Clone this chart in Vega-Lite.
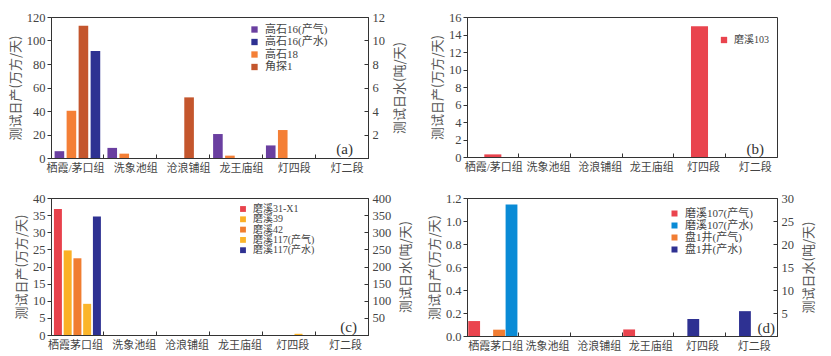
{
  "$schema": "https://vega.github.io/schema/vega-lite/v6.json",
  "padding": {"left": 8, "top": 10, "right": 0, "bottom": 0},
  "background": "white",
  "datasets": {
    "a": [
      {"cat": "栖霞/茅口组", "series": "高石16(产气)", "kind": "gas", "v": 5.8},
      {"cat": "栖霞/茅口组", "series": "高石18", "kind": "gas", "v": 40.2},
      {"cat": "栖霞/茅口组", "series": "角探1", "kind": "gas", "v": 112.6},
      {"cat": "栖霞/茅口组", "series": "高石16(产水)", "kind": "water", "v": 9.1},
      {"cat": "洗象池组", "series": "高石16(产气)", "kind": "gas", "v": 8.6},
      {"cat": "洗象池组", "series": "高石18", "kind": "gas", "v": 3.7},
      {"cat": "沧浪铺组", "series": "角探1", "kind": "gas", "v": 51.6},
      {"cat": "龙王庙组", "series": "高石16(产气)", "kind": "gas", "v": 20.4},
      {"cat": "龙王庙组", "series": "高石18", "kind": "gas", "v": 2},
      {"cat": "灯四段", "series": "高石16(产气)", "kind": "gas", "v": 10.7},
      {"cat": "灯四段", "series": "高石18", "kind": "gas", "v": 23.8}
    ],
    "b": [
      {"cat": "栖霞/茅口组", "series": "磨溪103", "v": 0.3},
      {"cat": "灯四段", "series": "磨溪103", "v": 14.95}
    ],
    "c": [
      {"cat": "栖霞茅口组", "series": "磨溪31-X1", "kind": "gas", "v": 36.8},
      {"cat": "栖霞茅口组", "series": "磨溪39", "kind": "gas", "v": 24.7},
      {"cat": "栖霞茅口组", "series": "磨溪42", "kind": "gas", "v": 22.4},
      {"cat": "栖霞茅口组", "series": "磨溪117(产气)", "kind": "gas", "v": 9.1},
      {"cat": "栖霞茅口组", "series": "磨溪117(产水)", "kind": "water", "v": 346},
      {"cat": "灯四段", "series": "磨溪117(产气)", "kind": "gas", "v": 0.35}
    ],
    "d": [
      {"cat": "栖霞茅口组", "series": "磨溪107(产气)", "kind": "gas", "v": 0.13},
      {"cat": "栖霞茅口组", "series": "盘1井(产气)", "kind": "gas", "v": 0.055},
      {"cat": "栖霞茅口组", "series": "磨溪107(产水)", "kind": "water", "v": 28.6},
      {"cat": "龙王庙组", "series": "磨溪107(产气)", "kind": "gas", "v": 0.057},
      {"cat": "灯四段", "series": "盘1井(产水)", "kind": "water", "v": 3.7},
      {"cat": "灯二段", "series": "盘1井(产水)", "kind": "water", "v": 5.4}
    ]
  },
  "concat": [
    {
      "width": 317, "height": 141,
      "data": {"name": "a"},
      "encoding": {
        "x": {"field": "cat", "type": "nominal", "title": null,
          "scale": {"domain": ["栖霞/茅口组", "洗象池组", "沧浪铺组", "龙王庙组", "灯四段", "灯二段"], "paddingInner": 0, "paddingOuter": 0},
          "axis": {"bandPosition": 0, "labelOffset": {"condition": {"test": "datum.value === '栖霞/茅口组'", "value": -2}, "value": 5.5}, "tickSize": -4, "labelPadding": 8, "labelAngle": 0, "labelFont": "Liberation Serif, Noto Sans CJK SC", "labelFontSize": 11}}
      },
      "layer": [
        {
          "layer": [
            {
              "transform": [{"filter": "datum.kind == 'gas'"}],
              "mark": {"type": "bar"},
              "encoding": {
                "xOffset": {"field": "series", "type": "nominal", "scale": {"domain": ["高石16(产气)", "高石18", "角探1", "高石16(产水)"], "paddingInner": 0.2, "paddingOuter": 0.3}},
                "y": {"field": "v", "type": "quantitative", "scale": {"domain": [0, 120], "nice": false},
                  "axis": {"orient": "left", "values": [0, 20, 40, 60, 80, 100, 120], "labelOverlap": false, "title": "测试日产(万方/天)", "tickSize": 4, "labelPadding": 2}},
                "color": {"field": "series", "type": "nominal",
                  "scale": {"domain": ["高石16(产气)", "高石16(产水)", "高石18", "角探1"], "range": ["#6A3FA0", "#2E3192", "#F47F36", "#C4562D"]},
                  "legend": {"orient": "none", "legendX": 198, "legendY": 7, "labelFontSize": 11, "rowPadding": 0.5, "symbolSize": 40}}
              }
            },
            {
              "data": {"values": [{}]},
              "mark": {"type": "text", "text": "(a)", "font": "Liberation Serif", "fontSize": 15, "color": "#333", "dx": 3, "baseline": "middle"},
              "encoding": {"x": {"datum": "灯二段", "type": "nominal"},
                "y": {"datum": 7.7, "type": "quantitative", "scale": {"domain": [0, 120], "nice": false},
                  "axis": {"orient": "left", "values": [0, 20, 40, 60, 80, 100, 120], "labelOverlap": false, "title": "测试日产(万方/天)", "tickSize": 4, "labelPadding": 2}}}
            }
          ]
        },
        {
          "transform": [{"filter": "datum.kind == 'water'"}],
          "mark": {"type": "bar"},
          "encoding": {
            "xOffset": {"field": "series", "type": "nominal", "scale": {"domain": ["高石16(产气)", "高石18", "角探1", "高石16(产水)"], "paddingInner": 0.2, "paddingOuter": 0.3}},
            "y": {"field": "v", "type": "quantitative", "scale": {"domain": [0, 12], "nice": false},
              "axis": {"orient": "right", "values": [0, 2, 4, 6, 8, 10, 12], "labelExpr": "datum.value === 0 ? '' : datum.label", "title": "测试日水(吨/天)", "titleAngle": 270, "tickSize": -4, "labelPadding": 8, "titlePadding": 22}},
            "color": {"field": "series", "type": "nominal",
              "scale": {"domain": ["高石16(产气)", "高石16(产水)", "高石18", "角探1"], "range": ["#6A3FA0", "#2E3192", "#F47F36", "#C4562D"]},
              "legend": {"orient": "none", "legendX": 198, "legendY": 7, "labelFontSize": 11, "rowPadding": 0.5, "symbolSize": 40}}
          }
        }
      ],
      "resolve": {"scale": {"y": "independent"}}
    },
    {
      "width": 310, "height": 140,
      "data": {"name": "b"},
      "encoding": {
        "x": {"field": "cat", "type": "nominal", "title": null,
          "scale": {"domain": ["栖霞/茅口组", "洗象池组", "沧浪铺组", "龙王庙组", "灯四段", "灯二段"], "paddingInner": 0, "paddingOuter": 0},
          "axis": {"bandPosition": 0, "labelOffset": {"condition": {"test": "datum.value === '栖霞/茅口组'", "value": 1}, "value": 4}, "tickSize": -4, "labelPadding": 8, "labelAngle": 0, "labelFont": "Liberation Serif, Noto Sans CJK SC", "labelFontSize": 11}}
      },
      "layer": [
        {
          "mark": {"type": "bar", "width": {"band": 0.33}},
          "encoding": {
            "y": {"field": "v", "type": "quantitative", "scale": {"domain": [0, 16], "nice": false},
              "axis": {"orient": "left", "values": [0, 2, 4, 6, 8, 10, 12, 14, 16], "labelOverlap": false, "title": "测试日产(万方/天)", "tickSize": 4, "labelPadding": 2}},
            "color": {"field": "series", "type": "nominal",
              "scale": {"domain": ["磨溪103"], "range": ["#E9444E"]},
              "legend": {"orient": "none", "legendX": 252, "legendY": 18, "labelFontSize": 10, "rowPadding": 1, "symbolSize": 40}}
          }
        },
        {
          "data": {"values": [{}]},
          "mark": {"type": "text", "text": "(b)", "font": "Liberation Serif", "fontSize": 15, "color": "#333", "dx": 4, "baseline": "middle"},
          "encoding": {"x": {"datum": "灯二段", "type": "nominal"},
            "y": {"datum": 0.91, "type": "quantitative", "scale": {"domain": [0, 16], "nice": false},
              "axis": {"orient": "left", "values": [0, 2, 4, 6, 8, 10, 12, 14, 16], "labelOverlap": false, "title": "测试日产(万方/天)", "tickSize": 4, "labelPadding": 2}}}
        }
      ]
    },
    {
      "width": 317, "height": 137,
      "data": {"name": "c"},
      "encoding": {
        "x": {"field": "cat", "type": "nominal", "title": null,
          "scale": {"domain": ["栖霞茅口组", "洗象池组", "沧浪铺组", "龙王庙组", "灯四段", "灯二段"], "paddingInner": 0, "paddingOuter": 0},
          "axis": {"bandPosition": 0, "labelOffset": {"condition": {"test": "datum.value === '栖霞茅口组'", "value": -2}, "value": 4}, "tickSize": -4, "labelPadding": 8, "labelAngle": 0, "labelFont": "Liberation Serif, Noto Sans CJK SC", "labelFontSize": 11}}
      },
      "layer": [
        {
          "layer": [
            {
              "transform": [{"filter": "datum.kind == 'gas'"}],
              "mark": {"type": "bar"},
              "encoding": {
                "xOffset": {"field": "series", "type": "nominal", "scale": {"domain": ["磨溪31-X1", "磨溪39", "磨溪42", "磨溪117(产气)", "磨溪117(产水)"], "paddingInner": 0.18, "paddingOuter": 0.3}},
                "y": {"field": "v", "type": "quantitative", "scale": {"domain": [0, 40], "nice": false},
                  "axis": {"orient": "left", "values": [0, 5, 10, 15, 20, 25, 30, 35, 40], "labelOverlap": false, "title": "测试日产(万方/天)", "tickSize": 4, "labelPadding": 2}},
                "color": {"field": "series", "type": "nominal",
                  "scale": {"domain": ["磨溪31-X1", "磨溪39", "磨溪42", "磨溪117(产气)", "磨溪117(产水)"], "range": ["#E8424C", "#FBB025", "#F07D30", "#FBB52A", "#2E3192"]},
                  "legend": {"orient": "none", "legendX": 187, "legendY": 6, "labelFontSize": 10, "rowPadding": 0.3, "symbolSize": 34}}
              }
            },
            {
              "data": {"values": [{}]},
              "mark": {"type": "text", "text": "(c)", "font": "Liberation Serif", "fontSize": 15, "color": "#333", "dx": 7, "baseline": "middle"},
              "encoding": {"x": {"datum": "灯二段", "type": "nominal"},
                "y": {"datum": 2.3, "type": "quantitative", "scale": {"domain": [0, 40], "nice": false},
                  "axis": {"orient": "left", "values": [0, 5, 10, 15, 20, 25, 30, 35, 40], "labelOverlap": false, "title": "测试日产(万方/天)", "tickSize": 4, "labelPadding": 2}}}
            }
          ]
        },
        {
          "transform": [{"filter": "datum.kind == 'water'"}],
          "mark": {"type": "bar"},
          "encoding": {
            "xOffset": {"field": "series", "type": "nominal", "scale": {"domain": ["磨溪31-X1", "磨溪39", "磨溪42", "磨溪117(产气)", "磨溪117(产水)"], "paddingInner": 0.18, "paddingOuter": 0.3}},
            "y": {"field": "v", "type": "quantitative", "scale": {"domain": [0, 400], "nice": false},
              "axis": {"orient": "right", "values": [0, 50, 100, 150, 200, 250, 300, 350, 400], "labelExpr": "datum.value === 0 ? '' : datum.label", "title": "测试日水(吨/天)", "titleAngle": 270, "tickSize": -4, "labelPadding": 8, "titlePadding": 22}},
            "color": {"field": "series", "type": "nominal",
              "scale": {"domain": ["磨溪31-X1", "磨溪39", "磨溪42", "磨溪117(产气)", "磨溪117(产水)"], "range": ["#E8424C", "#FBB025", "#F07D30", "#FBB52A", "#2E3192"]},
              "legend": {"orient": "none", "legendX": 187, "legendY": 6, "labelFontSize": 10, "rowPadding": 0.3, "symbolSize": 34}}
          }
        }
      ],
      "resolve": {"scale": {"y": "independent"}}
    },
    {
      "width": 310, "height": 138,
      "data": {"name": "d"},
      "encoding": {
        "x": {"field": "cat", "type": "nominal", "title": null,
          "scale": {"domain": ["栖霞茅口组", "洗象池组", "沧浪铺组", "龙王庙组", "灯四段", "灯二段"], "paddingInner": 0, "paddingOuter": 0},
          "axis": {"bandPosition": 0, "labelOffset": 3, "tickSize": -4, "labelPadding": 8, "labelAngle": 0, "labelFont": "Liberation Serif, Noto Sans CJK SC", "labelFontSize": 11}}
      },
      "layer": [
        {
          "layer": [
            {
              "transform": [{"filter": "datum.kind == 'gas'"}],
              "mark": {"type": "bar"},
              "encoding": {
                "xOffset": {"field": "series", "type": "nominal", "scale": {"domain": ["磨溪107(产气)", "盘1井(产水)", "盘1井(产气)", "磨溪107(产水)"], "paddingInner": 0.05, "paddingOuter": 0.1}},
                "y": {"field": "v", "type": "quantitative", "scale": {"domain": [0, 1.2], "nice": false},
                  "axis": {"orient": "left", "values": [0, 0.2, 0.4, 0.6, 0.8, 1.0, 1.2], "labelOverlap": false, "format": ".1f", "title": "测试日产(万方/天)", "tickSize": 4, "labelPadding": 2}},
                "color": {"field": "series", "type": "nominal",
                  "scale": {"domain": ["磨溪107(产气)", "磨溪107(产水)", "盘1井(产气)", "盘1井(产水)"], "range": ["#EA444E", "#0A8BD6", "#F17D33", "#2E3192"]},
                  "legend": {"orient": "none", "legendX": 202, "legendY": 10, "labelFontSize": 11, "rowPadding": 0, "symbolSize": 36}}
              }
            },
            {
              "data": {"values": [{}]},
              "mark": {"type": "text", "text": "(d)", "font": "Liberation Serif", "fontSize": 15, "color": "#333", "dx": 15, "baseline": "middle"},
              "encoding": {"x": {"datum": "灯二段", "type": "nominal"},
                "y": {"datum": 0.07, "type": "quantitative", "scale": {"domain": [0, 1.2], "nice": false},
                  "axis": {"orient": "left", "values": [0, 0.2, 0.4, 0.6, 0.8, 1.0, 1.2], "labelOverlap": false, "format": ".1f", "title": "测试日产(万方/天)", "tickSize": 4, "labelPadding": 2}}}
            }
          ]
        },
        {
          "transform": [{"filter": "datum.kind == 'water'"}],
          "mark": {"type": "bar"},
          "encoding": {
            "xOffset": {"field": "series", "type": "nominal", "scale": {"domain": ["磨溪107(产气)", "盘1井(产水)", "盘1井(产气)", "磨溪107(产水)"], "paddingInner": 0.05, "paddingOuter": 0.1}},
            "y": {"field": "v", "type": "quantitative", "scale": {"domain": [0, 30], "nice": false},
              "axis": {"orient": "right", "values": [0, 5, 10, 15, 20, 25, 30], "labelExpr": "datum.value === 0 ? '' : datum.label", "title": "测试日水(吨/天)", "titleAngle": 270, "tickSize": -4, "labelPadding": 8, "titlePadding": 22}},
            "color": {"field": "series", "type": "nominal",
              "scale": {"domain": ["磨溪107(产气)", "磨溪107(产水)", "盘1井(产气)", "盘1井(产水)"], "range": ["#EA444E", "#0A8BD6", "#F17D33", "#2E3192"]},
              "legend": {"orient": "none", "legendX": 202, "legendY": 10, "labelFontSize": 11, "rowPadding": 0, "symbolSize": 36}}
          }
        }
      ],
      "resolve": {"scale": {"y": "independent"}}
    }
  ],
  "columns": 2,
  "align": "each",
  "bounds": "flush",
  "spacing": {"column": 99, "row": 40},
  "resolve": {
    "scale": {"color": "independent", "x": "independent", "y": "independent", "xOffset": "independent"},
    "legend": {"color": "independent"}
  },
  "config": {
    "view": {"stroke": "#333", "strokeWidth": 1},
    "axis": {"grid": false, "domainColor": "#333", "tickColor": "#333", "labelColor": "#444", "titleColor": "#555", "labelOverlap": false,
      "labelFont": "Liberation Serif", "labelFontSize": 12.5, "titleFont": "Noto Sans CJK SC", "titleFontSize": 13, "titleFontWeight": "normal"},
    "legend": {"symbolType": "square", "labelFont": "Liberation Serif, Noto Sans CJK SC", "labelColor": "#444", "symbolStrokeWidth": 0, "title": null, "labelOffset": 5},
    "bar": {"stroke": null}
  }
}
